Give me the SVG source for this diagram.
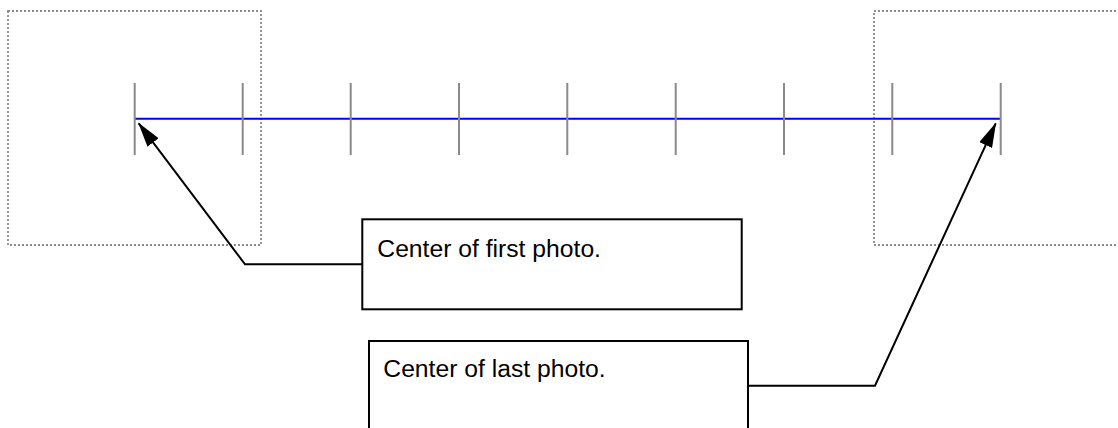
<svg xmlns="http://www.w3.org/2000/svg" width="1118" height="428" viewBox="0 0 1118 428">
  <style>
    .frame { fill: none; stroke: #8c8c8c; stroke-width: 1.8; stroke-dasharray: 2 2; }
    .tick { stroke: #8a8a8a; stroke-width: 2; }
    .track { stroke: #0000ff; stroke-width: 2; }
    .box { fill: #ffffff; stroke: #000000; stroke-width: 2; }
    .conn { fill: none; stroke: #000000; stroke-width: 2; }
    .label { font-family: "Liberation Sans", Arial, sans-serif; font-size: 24.7px; fill: #000000; }
  </style>
  <defs>
    <marker id="arrow" viewBox="0 -7 25 14" markerWidth="25" markerHeight="14" refX="24" refY="0" markerUnits="userSpaceOnUse" orient="auto">
      <path d="M0,-7 L25,0 L0,7 Z" fill="#000000"/>
    </marker>
  </defs>

  <g id="photo-frames">
    <rect class="frame" x="8" y="11" width="253" height="234"/>
    <path class="frame" d="M1120,11 H874 V245 H1120"/>
  </g>

  <g id="track">
    <line class="track" x1="135" y1="118.7" x2="1000" y2="118.7"/>
    <line class="tick" x1="134.7" y1="83" x2="134.7" y2="155"/>
    <line class="tick" x1="242.7" y1="83" x2="242.7" y2="155"/>
    <line class="tick" x1="350.7" y1="83" x2="350.7" y2="155"/>
    <line class="tick" x1="459" y1="83" x2="459" y2="155"/>
    <line class="tick" x1="567.3" y1="83" x2="567.3" y2="155"/>
    <line class="tick" x1="675.7" y1="83" x2="675.7" y2="155"/>
    <line class="tick" x1="784" y1="83" x2="784" y2="155"/>
    <line class="tick" x1="892.3" y1="83" x2="892.3" y2="155"/>
    <line class="tick" x1="1000.7" y1="83" x2="1000.7" y2="155"/>
  </g>

  <g id="connectors">
    <polyline class="conn" points="362,264.3 245,264.3 138.7,123.3" marker-end="url(#arrow)"/>
    <polyline class="conn" points="748,385.7 875,385.7 995.7,123.3" marker-end="url(#arrow)"/>
  </g>

  <g id="label-first">
    <rect class="box" x="362.3" y="219.3" width="379.4" height="90"/>
    <text class="label" x="377.3" y="256.7">Center of first photo.</text>
  </g>

  <g id="label-last">
    <rect class="box" x="369" y="341" width="379" height="100"/>
    <text class="label" x="383.3" y="376.7">Center of last photo.</text>
  </g>
</svg>
